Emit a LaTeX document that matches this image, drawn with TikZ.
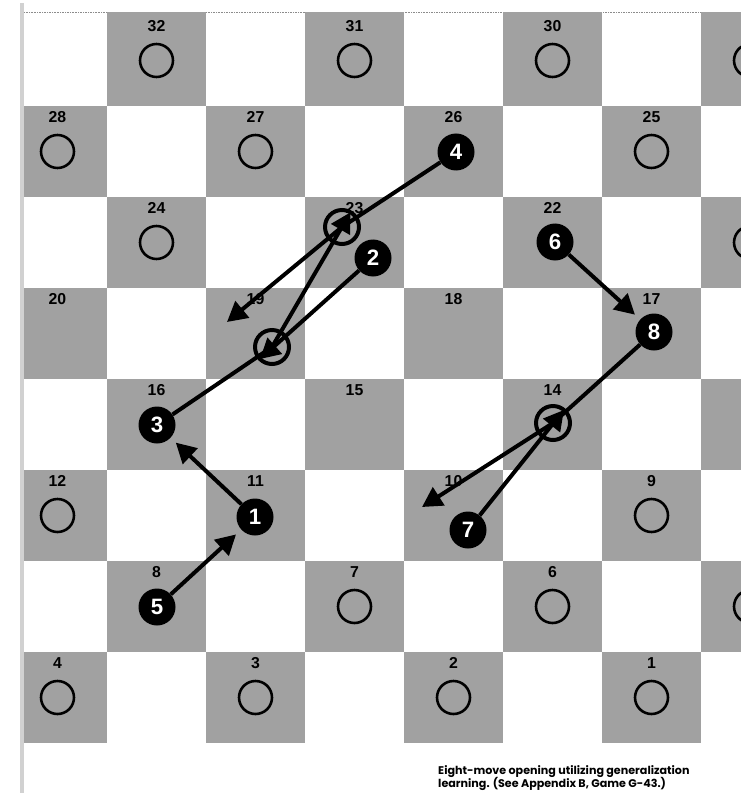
\documentclass[tikz,border=0pt]{standalone}
\usepackage{fontspec}
\setmainfont{Liberation Sans}
\newfontfamily\capfont{Poppins}
\usetikzlibrary{arrows.meta}

\begin{document}
\begin{tikzpicture}[x=0.03cm,y=-0.03cm,
	dark/.style={fill=black!37},
	sqnum/.style={font=\fontsize{13.5}{13.5}\selectfont\bfseries},
	piece/.style={circle,fill=black,text=white,inner sep=0pt,minimum size=1.11cm,font=\fontsize{19}{19}\selectfont\bfseries},
	movering/.style={circle,draw,line width=3.4pt,inner sep=0pt,outer sep=0pt,minimum size=1.02cm},
	move/.style={line width=3.4pt,line join=round,-{Triangle[length=17pt,width=18pt]}}]

\useasboundingbox (0,0) rectangle (741,793);

% Page edge
		\fill[black!18] (20,3) rectangle (24,793);
		\draw[black!45,densely dotted,line width=0.4pt] (24,12) -- (741,12);

%%%%%%%%%%%% Board %%%%%%%%%%%%%%%%%%%
\begin{scope}
\clip (24,12) rectangle (741,743);
\foreach \r in {1,...,8}
  \foreach \k in {0,...,3}{
    \pgfmathtruncatemacro\c{2*\k+1+mod(\r,2)}
    \pgfmathtruncatemacro\n{36-4*\r-\k}
    \pgfmathsetmacro\yt{\r==1 ? 12 : 15+91*(\r-1)}
    \fill[dark] (8+99*\c-99,\yt) rectangle (8+99*\c,15+91*\r);
    \ifnum\c<8 \node[sqnum] at (8+99*\c-49.5,26+91*\r-91) {\n};\fi
  }

% Empty squares
\foreach \c/\r in {2/1,4/1,6/1,8/1,1/2,3/2,7/2,2/3,8/3,1/6,7/6,4/7,6/7,8/7,1/8,3/8,5/8,7/8}
  \draw[line width=2.2pt] (8+99*\c-49.5,60.5+91*\r-91) circle (16.5);
\end{scope}

%Jumped squares
\node[movering] (r23) at (342,227) {};
\node[movering] (r19) at (272,347) {};
\node[movering] (r14) at (553,423) {};

%Moves
\node[piece] (p1) at (255,517) {1};
\node[piece] (p2) at (373,258) {2};
\node[piece] (p3) at (157,425) {3};
\node[piece] (p4) at (456,152) {4};
\node[piece] (p5) at (157,607) {5};
\node[piece] (p6) at (555,242) {6};
\node[piece] (p7) at (468,530) {7};
\node[piece] (p8) at (654,332) {8};

\coordinate (t19) at (227,322);
\coordinate (t10) at (422,507);

%Arrows
\draw[move,shorten >=6pt] (p1) -- (p3);
\draw[move] (p2) -- (r19.south west);
\draw[move] (p3) -- (r19.center) -- (r23.60);
\draw[move] (p4) -- (r23.center) -- (t19);
\draw[move,shorten >=6pt] (p5) -- (p1);
\draw[move,shorten >=6pt] (p6) -- (p8);
\draw[move] (p7) -- (r14.50);
\draw[move] (p8) -- (r14.center) -- (t10);

%Caption
\node[anchor=north west,align=left,inner sep=0pt,font=\capfont\bfseries\fontsize{9.5}{11.5}\selectfont] (cap) at (438,765)
  {Eight-move opening utilizing generalization\\learning. (See Appendix B, Game G-43.)};

\end{tikzpicture}
\end{document}
